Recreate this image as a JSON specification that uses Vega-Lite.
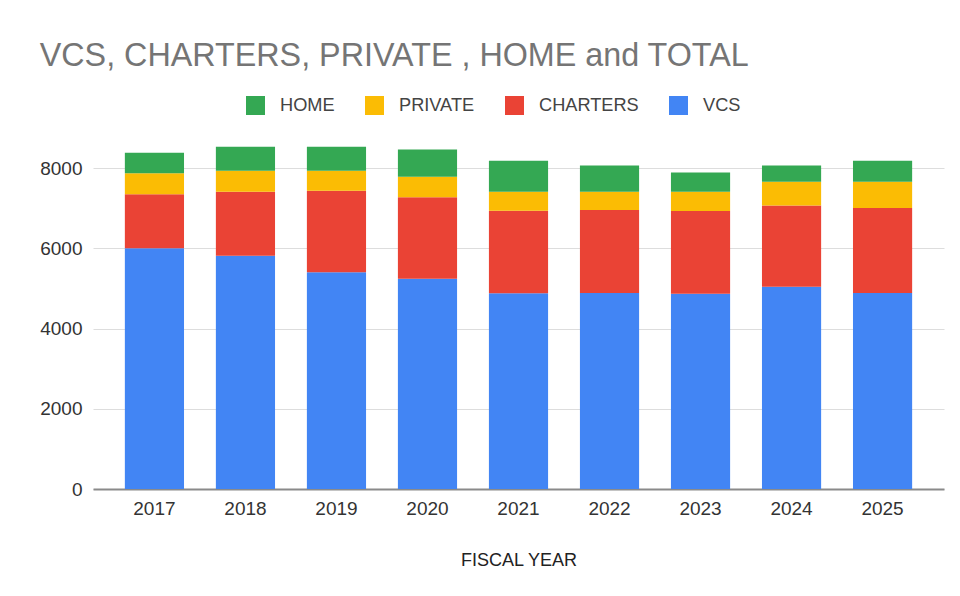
{
  "$schema": "https://vega.github.io/schema/vega-lite/v6.json",
  "width": 851,
  "height": 345,
  "autosize": {"type": "none"},
  "padding": {"left": 93, "top": 144, "right": 16, "bottom": 107},
  "background": "white",
  "title": {
    "text": "VCS, CHARTERS, PRIVATE , HOME and TOTAL",
    "anchor": "start",
    "frame": "bounds",
    "font": "Liberation Sans",
    "fontSize": 32.3,
    "fontWeight": "normal",
    "color": "#757575",
    "offset": 24
  },
  "data": {
    "values": [
      {"year": "2017", "category": "VCS", "value": 6000},
      {"year": "2017", "category": "CHARTERS", "value": 1345},
      {"year": "2017", "category": "PRIVATE", "value": 523},
      {"year": "2017", "category": "HOME", "value": 515},
      {"year": "2018", "category": "VCS", "value": 5815},
      {"year": "2018", "category": "CHARTERS", "value": 1595},
      {"year": "2018", "category": "PRIVATE", "value": 523},
      {"year": "2018", "category": "HOME", "value": 598},
      {"year": "2019", "category": "VCS", "value": 5400},
      {"year": "2019", "category": "CHARTERS", "value": 2035},
      {"year": "2019", "category": "PRIVATE", "value": 498},
      {"year": "2019", "category": "HOME", "value": 598},
      {"year": "2020", "category": "VCS", "value": 5240},
      {"year": "2020", "category": "CHARTERS", "value": 2030},
      {"year": "2020", "category": "PRIVATE", "value": 513},
      {"year": "2020", "category": "HOME", "value": 682},
      {"year": "2021", "category": "VCS", "value": 4877},
      {"year": "2021", "category": "CHARTERS", "value": 2058},
      {"year": "2021", "category": "PRIVATE", "value": 474},
      {"year": "2021", "category": "HOME", "value": 772},
      {"year": "2022", "category": "VCS", "value": 4884},
      {"year": "2022", "category": "CHARTERS", "value": 2069},
      {"year": "2022", "category": "PRIVATE", "value": 456},
      {"year": "2022", "category": "HOME", "value": 657},
      {"year": "2023", "category": "VCS", "value": 4867},
      {"year": "2023", "category": "CHARTERS", "value": 2061},
      {"year": "2023", "category": "PRIVATE", "value": 481},
      {"year": "2023", "category": "HOME", "value": 483},
      {"year": "2024", "category": "VCS", "value": 5041},
      {"year": "2024", "category": "CHARTERS", "value": 2029},
      {"year": "2024", "category": "PRIVATE", "value": 588},
      {"year": "2024", "category": "HOME", "value": 408},
      {"year": "2025", "category": "VCS", "value": 4884},
      {"year": "2025", "category": "CHARTERS", "value": 2119},
      {"year": "2025", "category": "PRIVATE", "value": 655},
      {"year": "2025", "category": "HOME", "value": 523}
    ]
  },
  "transform": [
    {"calculate": "indexof(['VCS','CHARTERS','PRIVATE','HOME'], datum.category)", "as": "stackOrder"}
  ],
  "mark": {"type": "bar"},
  "encoding": {
    "x": {
      "field": "year",
      "type": "ordinal",
      "title": "FISCAL YEAR",
      "scale": {"paddingInner": 0.35, "paddingOuter": 0.35},
      "axis": {
        "labelAngle": 0,
        "labelFont": "Liberation Sans",
        "labelFontSize": 19,
        "labelColor": "#333333",
        "labelPadding": 10,
        "ticks": false,
        "tickSize": 0,
        "domainColor": "#8a8a8a",
        "domainWidth": 2,
        "titleFont": "Liberation Sans",
        "titleFontSize": 18,
        "titleFontWeight": "normal",
        "titleColor": "#222222",
        "titlePadding": 33
      }
    },
    "y": {
      "field": "value",
      "type": "quantitative",
      "stack": "zero",
      "title": null,
      "scale": {"domain": [0, 8600], "nice": false},
      "axis": {
        "values": [0, 2000, 4000, 6000, 8000],
        "format": "d",
        "domain": false,
        "ticks": false,
        "tickSize": 0,
        "labelPadding": 11,
        "labelFont": "Liberation Sans",
        "labelFontSize": 19,
        "labelColor": "#333333",
        "gridColor": "#dddddd",
        "gridWidth": 1.2
      }
    },
    "color": {
      "field": "category",
      "type": "nominal",
      "scale": {
        "domain": ["HOME", "PRIVATE", "CHARTERS", "VCS"],
        "range": ["#34A853", "#FBBC04", "#EA4335", "#4285F4"]
      },
      "legend": {
        "title": null,
        "orient": "none",
        "direction": "horizontal",
        "legendX": 153,
        "legendY": -48,
        "symbolType": "square",
        "symbolSize": 361,
        "symbolStrokeWidth": 0,
        "symbolOpacity": 1,
        "labelFont": "Liberation Sans",
        "labelFontSize": 18.2,
        "labelColor": "#444444",
        "labelOffset": 15,
        "columnPadding": 30
      }
    },
    "order": {"field": "stackOrder", "type": "quantitative", "sort": "ascending"}
  },
  "config": {
    "view": {"stroke": null},
    "font": "Liberation Sans"
  }
}
